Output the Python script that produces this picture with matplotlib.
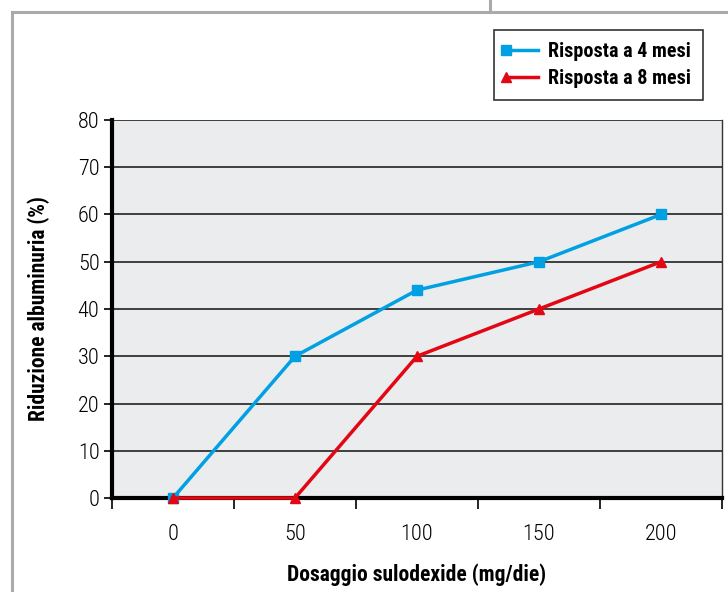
import matplotlib
matplotlib.use("Agg")
import matplotlib.pyplot as plt
from matplotlib.lines import Line2D
import matplotlib.font_manager as fm

categories = ["0", "50", "100", "150", "200"]
risposta_4 = [0, 30, 44, 50, 60]
risposta_8 = [0, 0, 30, 40, 50]
yticks = [0, 10, 20, 30, 40, 50, 60, 70, 80]

names = {f.name for f in fm.fontManager.ttflist}
FAM = ["Roboto Condensed", "DejaVu Sans"] if "Roboto Condensed" in names else ["DejaVu Sans"]

BLUE = "#00A0E3"
RED = "#E30613"

fig = plt.figure(figsize=(7.28, 5.92), dpi=100)
fig.patch.set_facecolor("white")

# frame lines
fig.add_artist(Line2D([12/728, 1], [1-12/592, 1-12/592], color="#AAAAAA", lw=2.2))
fig.add_artist(Line2D([12/728, 12/728], [0, 1-12/592], color="#AAAAAA", lw=2.2))
fig.add_artist(Line2D([490/728, 490/728], [1-12/592, 1], color="#AAAAAA", lw=2.2))

ax = fig.add_axes([112/728, 94/592, 610/728, 378/592])
ax.set_facecolor("#EBECEE")
x = list(range(len(categories)))
ax.set_xlim(-0.5, len(categories) - 0.5)
ax.set_ylim(0, 80)

for v in yticks[1:]:
    ax.axhline(v, color="#222222", lw=1.2, zorder=1)

l4, = ax.plot(x, risposta_4, color=BLUE, lw=2.5, marker="s", ms=7, zorder=3, label="Risposta a 4 mesi", clip_on=False)
l8, = ax.plot(x, risposta_8, color=RED, lw=2.5, marker="^", ms=7, zorder=4, label="Risposta a 8 mesi", clip_on=False)

ax.set_yticks(yticks)
ax.set_yticklabels([str(v) for v in yticks], family=FAM, fontweight="light", fontsize=16)
ax.set_xticks([i - 0.5 for i in range(len(categories) + 1)])
ax.set_xticklabels([])
ax.set_xticks(x, minor=True)
ax.set_xticklabels(categories, minor=True, family=FAM, fontweight="light", fontsize=16)
ax.tick_params(axis="x", which="major", length=8, width=1.2, direction="out", color="black")
ax.tick_params(axis="x", which="minor", length=0, pad=19)
ax.tick_params(axis="y", length=6, width=1.2, direction="out", pad=3)

for s in ["left", "bottom"]:
    ax.spines[s].set_linewidth(3)
    ax.spines[s].set_color("black")
ax.spines["right"].set_linewidth(1)
ax.spines["right"].set_color("#333333")
ax.spines["top"].set_visible(False)

ax.set_ylabel("Riduzione albuminuria (%)", family=FAM, fontweight="bold", fontsize=15.5, labelpad=20)
ax.set_xlabel("Dosaggio sulodexide (mg/die)", family=FAM, fontweight="bold", fontsize=15.5, labelpad=13)

leg = fig.legend(handles=[l4, l8], loc="upper left",
                 bbox_to_anchor=(494/728, 1-30/592), bbox_transform=fig.transFigure,
                 prop={"family": FAM, "weight": "bold", "size": 14.5},
                 frameon=True, fancybox=False, edgecolor="black", handlelength=1.6,
                 handletextpad=0.5, borderpad=0.6, labelspacing=0.4, markerfirst=True,
                 borderaxespad=0)
leg.get_frame().set_linewidth(1.2)
for h in leg.legend_handles:
    h.set_markevery([0])

fig.savefig("out.png", dpi=100, facecolor="white")
